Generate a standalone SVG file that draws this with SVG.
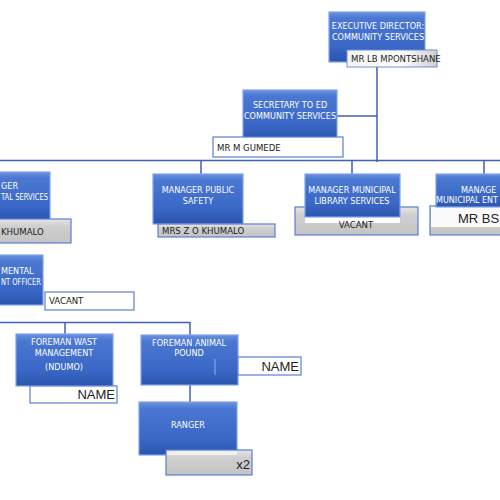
<svg xmlns="http://www.w3.org/2000/svg" width="500" height="500" viewBox="0 0 500 500">
<defs>
<linearGradient id="blue" x1="0" y1="0" x2="0" y2="1">
<stop offset="0" stop-color="#6d92de"/>
<stop offset="0.12" stop-color="#4a78d2"/>
<stop offset="0.7" stop-color="#3a67c6"/>
<stop offset="1" stop-color="#2a55ae"/>
</linearGradient>
<linearGradient id="grey" x1="0" y1="0" x2="0" y2="1">
<stop offset="0" stop-color="#e6e6e6"/>
<stop offset="0.3" stop-color="#cfcfcf"/>
<stop offset="1" stop-color="#c4c4c4"/>
</linearGradient>
<linearGradient id="silver" x1="0" y1="0" x2="1" y2="0">
<stop offset="0" stop-color="#f4f4f4"/>
<stop offset="0.6" stop-color="#ffffff"/>
<stop offset="0.85" stop-color="#e0e0e0"/>
<stop offset="1" stop-color="#cfcfcf"/>
</linearGradient>
</defs>
<style>
.node{fill:url(#blue);stroke:#7fa3ea;stroke-width:1.2}
.nt{font-family:"Liberation Sans Narrow","DejaVu Sans Condensed","Liberation Sans",sans-serif;font-size:9px;fill:#ffffff;text-anchor:middle}
.white{fill:#ffffff;stroke:#5a7fcf;stroke-width:1.2}
.greyb{fill:url(#grey);stroke:#5a7fcf;stroke-width:1.2}
.name{font-family:"Liberation Sans Narrow","DejaVu Sans Condensed","Liberation Sans",sans-serif;font-size:9.5px;fill:#222222}
.big{font-family:"Liberation Sans","DejaVu Sans",sans-serif;font-size:13px;fill:#222222}
.con{fill:none;stroke:#3d62b8;stroke-width:1.5}
</style>
<rect width="500" height="500" fill="#ffffff"/>

<g id="connectors">
<path class="con" d="M377,67 V162"/>
<path class="con" d="M337,116 H377"/>
<path class="con" d="M0,160.5 H500"/>
<path class="con" d="M201,161 V174 M352,161 V174 M484,161 V174"/>
<path class="con" d="M0,322.5 H190 V336"/>
<path class="con" d="M65,322.5 V335"/>
<path class="con" d="M190,385 V403"/>
</g>

<g id="exec-director">
<rect class="node" x="329" y="12" width="96" height="50"/>
<text class="nt" x="378" y="29">EXECUTIVE DIRECTOR:</text>
<text class="nt" x="378" y="40">COMMUNITY SERVICES</text>
<rect x="347" y="50" width="90" height="17" fill="url(#silver)" stroke="#6f8fd6" stroke-width="1"/>
<text class="name" x="351" y="62" font-size="8.5px">MR LB MPONTSHANE</text>
</g>

<g id="secretary">
<rect class="node" x="243" y="90" width="94" height="50"/>
<text class="nt" x="290" y="108">SECRETARY TO ED</text>
<text class="nt" x="290" y="119">COMMUNITY SERVICES</text>
<rect class="white" x="213" y="137" width="130" height="20"/>
<text class="name" x="217" y="151">MR M GUMEDE</text>
</g>

<g id="manager-env">
<rect class="node" x="-5" y="172" width="55" height="50"/>
<text class="nt" x="1" y="189" style="text-anchor:start">GER</text>
<text class="nt" x="1" y="200" style="text-anchor:start" textLength="47" lengthAdjust="spacingAndGlyphs">TAL SERVICES</text>
<rect class="greyb" x="-5" y="219" width="76" height="24"/>
<text class="name" x="1" y="235" font-size="10px">KHUMALO</text>
</g>

<g id="manager-public-safety">
<rect class="node" x="153" y="174" width="90" height="50"/>
<text class="nt" x="198" y="193">MANAGER  PUBLIC</text>
<text class="nt" x="198" y="204">SAFETY</text>
<rect class="greyb" x="158" y="224" width="117" height="13"/>
<text class="name" x="162" y="234">MRS Z O KHUMALO</text>
</g>

<g id="manager-library">
<rect class="greyb" x="295" y="207" width="123" height="28"/>
<rect x="305" y="209" width="95" height="14" fill="#ffffff"/>
<rect class="node" x="305" y="174" width="95" height="43"/>
<text class="nt" x="352" y="193">MANAGER MUNICIPAL</text>
<text class="nt" x="352" y="204">LIBRARY SERVICES</text>
<text class="name" x="356" y="228" style="text-anchor:middle">VACANT</text>
</g>

<g id="manager-entities">
<rect class="greyb" x="430" y="206" width="75" height="29"/>
<rect x="431" y="207" width="74" height="20" fill="#fbfbfb"/>
<rect class="node" x="436" y="174" width="70" height="33"/>
<text class="nt" x="461" y="193" style="text-anchor:start">MANAGE</text>
<text class="nt" x="436" y="203" style="text-anchor:start" textLength="62" lengthAdjust="spacingAndGlyphs">MUNICIPAL ENT</text>
<text class="big" x="458" y="223" font-size="12px">MR BS</text>
</g>

<g id="env-officer">
<rect class="node" x="-5" y="255" width="48" height="50"/>
<text class="nt" x="1" y="274" style="text-anchor:start">MENTAL</text>
<text class="nt" x="1" y="285" style="text-anchor:start" textLength="40" lengthAdjust="spacingAndGlyphs">NT OFFICER</text>
<rect class="white" x="45" y="292" width="89" height="18"/>
<text class="name" x="49" y="304">VACANT</text>
</g>

<g id="foreman-waste">
<rect class="node" x="16" y="334" width="97" height="52"/>
<text class="nt" x="64" y="345">FOREMAN WAST</text>
<text class="nt" x="64" y="356">MANAGEMENT</text>
<text class="nt" x="64" y="370">(NDUMO)</text>
<rect class="white" x="30" y="386" width="87" height="17"/>
<text class="big" x="115" y="399" style="text-anchor:end">NAME</text>
</g>

<g id="foreman-pound">
<rect class="node" x="141" y="335" width="97" height="50"/>
<text class="nt" x="189" y="346">FOREMAN  ANIMAL</text>
<text class="nt" x="189" y="356">POUND</text>
<path d="M215,359 V375" stroke="#8fb0f0" stroke-width="1" fill="none"/>
<rect class="white" x="238" y="357" width="63" height="18"/>
<text class="big" x="299" y="371" style="text-anchor:end">NAME</text>
</g>

<g id="ranger">
<rect class="node" x="139" y="402" width="98" height="53"/>
<text class="nt" x="188" y="428">RANGER</text>
<rect class="greyb" x="166" y="450" width="86" height="25"/>
<rect x="167" y="451" width="70" height="4" fill="#f0f0f0"/>
<text class="big" x="250" y="469" font-size="15px" style="text-anchor:end">x2</text>
</g>
</svg>
